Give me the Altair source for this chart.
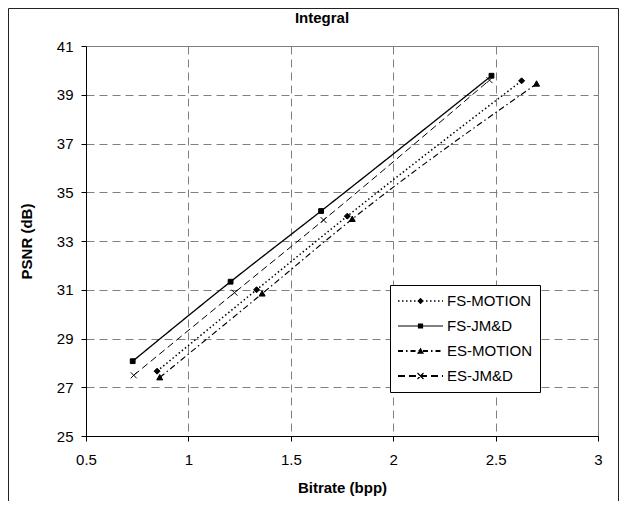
import altair as alt
import pandas as pd

# ---- data ----
series = ["FS-MOTION", "FS-JM&D", "ES-MOTION", "ES-JM&D"]
fs_motion_x = [0.847, 1.333, 1.776, 2.627]
fs_motion_y = [27.66, 31.00, 34.02, 39.57]
fs_jmd_x = [0.728, 1.206, 1.648, 2.480]
fs_jmd_y = [28.07, 31.33, 34.23, 39.78]
es_motion_x = [0.860, 1.360, 1.800, 2.700]
es_motion_y = [27.40, 30.84, 33.90, 39.45]
es_jmd_x = [0.733, 1.225, 1.660, 2.470]
es_jmd_y = [27.49, 30.88, 33.86, 39.60]
x_ticks = [0.5, 1, 1.5, 2, 2.5, 3]
y_ticks = [25, 27, 29, 31, 33, 35, 37, 39, 41]

xs = [fs_motion_x, fs_jmd_x, es_motion_x, es_jmd_x]
ys = [fs_motion_y, fs_jmd_y, es_motion_y, es_jmd_y]
rows = []
for name, xv, yv in zip(series, xs, ys):
    for a, b in zip(xv, yv):
        rows.append({"series": name, "bitrate": a, "psnr": b})
df = pd.DataFrame(rows)

# ---- styles ----
dashes = [[1.5, 2.5], [1, 0], [6, 3, 1.5, 3], [7, 4]]
widths = [1.5, 1.0, 2.2, 2.2]
marker_paths = [
    "M0,-1L1,0L0,1L-1,0Z",
    "M-0.8,-0.8L0.8,-0.8L0.8,0.8L-0.8,0.8Z",
    "M0,-1L1,0.8L-1,0.8Z",
    "M-1,-1L1,1M-1,1L1,-1",
]

SYM_PX = 45.0
U = 2.0 / SYM_PX


def f(v):
    return f"{v:.3f}"


def dash_path(pattern, thick_px):
    """Dashes drawn as thin filled rectangles (legend symbols are fill only)."""
    h = thick_px / 2 * U
    segs = []
    pos = 0.0
    i = 0
    on = True
    while pos < SYM_PX - 1e-6:
        L = pattern[i % len(pattern)]
        if on:
            end = min(pos + L, SYM_PX)
            x1 = -1 + pos * U
            x2 = -1 + end * U
            segs.append(f"M{f(x1)},{f(-h)}L{f(x2)},{f(-h)}L{f(x2)},{f(h)}L{f(x1)},{f(h)}Z")
        pos += L
        i += 1
        on = not on
    return "".join(segs)


def diamond(r):
    r *= U
    return f"M0,{f(-r)}L{f(r)},0L0,{f(r)}L{f(-r)},0Z"


def square(r):
    r *= U
    return f"M{f(-r)},{f(-r)}L{f(r)},{f(-r)}L{f(r)},{f(r)}L{f(-r)},{f(r)}Z"


def triangle(r):
    r *= U
    return f"M0,{f(-r)}L{f(r)},{f(0.8 * r)}L{f(-r)},{f(0.8 * r)}Z"


def xmark(r, w):
    r *= U
    w *= U / 1.414
    a = (f"M{f(-r - w)},{f(-r + w)}L{f(-r + w)},{f(-r - w)}"
         f"L{f(r + w)},{f(r - w)}L{f(r - w)},{f(r + w)}Z")
    b = (f"M{f(r - w)},{f(-r - w)}L{f(r + w)},{f(-r + w)}"
         f"L{f(-r + w)},{f(r + w)}L{f(-r - w)},{f(r - w)}Z")
    return a + b


legend_paths = [
    dash_path([1.5, 2.5], 1.5) + diamond(3.2),
    dash_path([45, 0.01], 1.2) + square(2.6),
    dash_path([5, 3, 1.5, 3], 2.0) + triangle(3.5),
    dash_path([7, 4], 2.0) + xmark(3.0, 0.6),
]

FONT = "Liberation Sans"

x_enc = alt.X(
    "bitrate:Q",
    scale=alt.Scale(domain=[0.5, 3], nice=False, zero=False),
    axis=alt.Axis(values=x_ticks, title="Bitrate (bpp)", labelPadding=11,
                  titlePadding=13, labelFlush=False, format="~g"),
)
y_enc = alt.Y(
    "psnr:Q",
    scale=alt.Scale(domain=[25, 41], nice=False, zero=False),
    axis=alt.Axis(values=y_ticks, title="PSNR (dB)", labelPadding=8,
                  titlePadding=22, labelFlush=False),
)

base = alt.Chart(df)

lines = base.mark_line(color="black", interpolate="monotone").encode(
    x=x_enc,
    y=y_enc,
    strokeDash=alt.StrokeDash("series:N", scale=alt.Scale(domain=series, range=dashes), legend=None),
    strokeWidth=alt.StrokeWidth("series:N", scale=alt.Scale(domain=series, range=widths), legend=None),
    order="bitrate:Q",
)

points = base.mark_point(fill="black", stroke="black", strokeWidth=1, size=36, opacity=1).encode(
    x=x_enc,
    y=y_enc,
    shape=alt.Shape("series:N", scale=alt.Scale(domain=series, range=marker_paths), legend=None),
)

legend_layer = base.mark_point(filled=True, color="black", opacity=0).encode(
    x=x_enc,
    y=y_enc,
    shape=alt.Shape(
        "series:N",
        scale=alt.Scale(domain=series, range=legend_paths),
        legend=alt.Legend(
            title=None, orient="none", legendX=304, legendY=239,
            symbolSize=SYM_PX * SYM_PX, symbolOpacity=1,
            symbolFillColor="black", symbolStrokeWidth=0,
            labelFontSize=15, labelFont=FONT, labelColor="black", labelOffset=4,
            padding=8, rowPadding=9, clipHeight=16,
            strokeColor="black", fillColor="white", symbolOffset=0,
        ),
    ),
)

frame = alt.Chart(alt.Data(values=[{}])).mark_rect(
    fillOpacity=0, stroke="#222222", strokeWidth=1
).encode(
    x=alt.value(-77.5), x2=alt.value(532.5), y=alt.value(-37.5), y2=alt.value(600)
)

chart = (
    alt.layer(frame, lines, points, legend_layer)
    .resolve_scale(shape="independent")
    .properties(
        width=512,
        height=390,
        background="white",
        autosize=alt.AutoSizeParams(type="none"),
        padding={"left": 78, "top": 38, "right": 21, "bottom": 65},
        title=alt.Title("Integral", font=FONT, fontSize=15, fontWeight="bold",
                        color="black", anchor="middle", dx=-20, offset=-18),
    )
    .configure_view(stroke="#808080", strokeWidth=1)
    .configure_axis(
        gridColor="#808080", gridDash=[8, 5], gridWidth=1, gridOpacity=1,
        domainColor="black", domainWidth=1, tickColor="black", tickSize=5,
        labelColor="black", labelFont=FONT, labelFontSize=15,
        titleFont=FONT, titleFontSize=15, titleFontWeight="bold", titleColor="black",
    )
)

chart.save("out.html", embed_options={"renderer": "svg", "actions": False})
